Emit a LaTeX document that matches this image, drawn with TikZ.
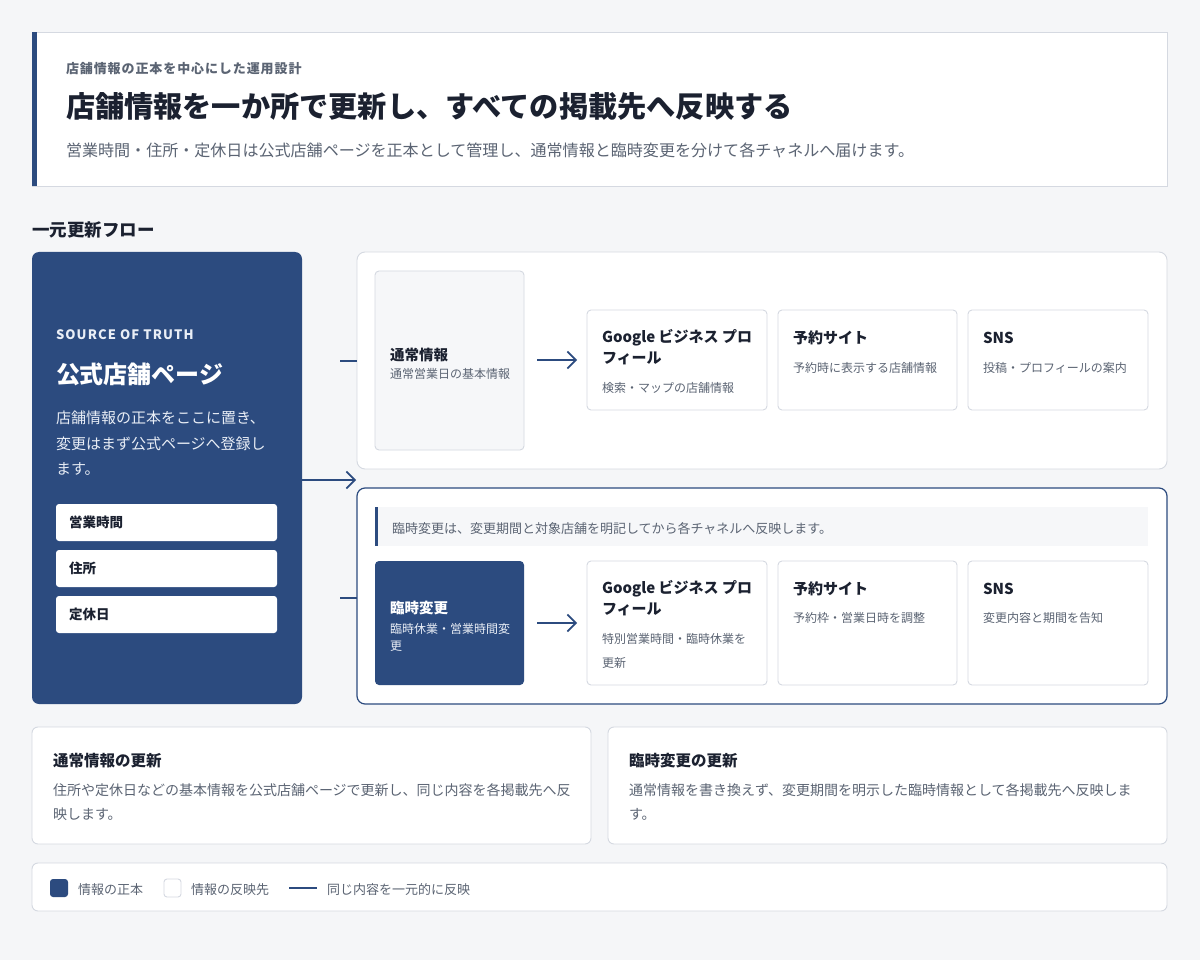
\documentclass[tikz,border=0pt]{standalone}
\usepackage{fontspec}
\setmainfont{Noto Sans CJK JP}
\usetikzlibrary{arrows.meta}
\definecolor{bgc}{HTML}{F5F6F8}
\definecolor{navy}{HTML}{2C4B7F}
\definecolor{bd}{HTML}{D5D9E1}
\definecolor{ink}{HTML}{1B2130}
\definecolor{gry}{HTML}{5B6473}
\definecolor{lite}{HTML}{F6F7F9}
\definecolor{pale}{HTML}{E9EEF6}
\tikzset{
  box/.style={anchor=north west, inner sep=0pt, outer sep=0pt, line width=0.9pt},
  card/.style={box, draw=bd, fill=white, rounded corners=4pt},
  t/.style={anchor=west, inner sep=0pt, outer sep=0pt, yshift=-1.5pt},
  fs/.style={font=\fontsize{#1}{#1}\selectfont},
  fb/.style={font=\fontsize{#1}{#1}\selectfont\bfseries},
  arr/.style={draw=navy, line width=1.6pt, -{Straight Barb[length=8.5pt,width=17pt,line width=1.6pt]}},
  stub/.style={draw=navy, line width=1.5pt},
  field/.style={box, fill=white, rounded corners=3pt, minimum width=221pt, minimum height=37pt,
    text width=195pt, inner xsep=13pt, align=left, text=ink, font=\fontsize{13.5}{13.5}\selectfont\bfseries}
}
\begin{document}
\begin{tikzpicture}[x=1pt,y=-1pt]
\fill[bgc] (0,0) rectangle (1200,960);
\useasboundingbox (0,0) rectangle (1200,960);

% header
\node[box, draw=bd, fill=white, minimum width=1135pt, minimum height=154pt] (header) at (32,32) {};
\fill[navy] (header.north west) rectangle ++(5,154);
\node[t, fb=13, text=gry] (kicker) at (66,67) {\addfontfeatures{LetterSpace=7}店舗情報の正本を中心にした運用設計};
\node[t, fb=29.2, text=ink] (title) at (66,105) {店舗情報を一か所で更新し、すべての掲載先へ反映する};
\node[t, fs=16.05, text=gry] (desc) at (66,149) {営業時間・住所・定休日は公式店舗ページを正本として管理し、通常情報と臨時変更を分けて各チャネルへ届けます。};

\node[t, fb=17.5, text=ink] (section) at (32,228) {一元更新フロー};

% source panel
\node[box, fill=navy, rounded corners=7pt, minimum width=270pt, minimum height=452pt] (src) at (32,252) {};
\node[t, fb=13, text=pale] (sot) at (56,333) {\addfontfeatures{LetterSpace=8.5}SOURCE OF TRUTH};
\node[t, fb=24, text=white] (srcname) at (56,373) {公式店舗ページ};
\node[t, fs=15, text=pale] (p1) at (56,416) {店舗情報の正本をここに置き、};
\node[t, fs=15, text=pale] (p2) at (56,442) {変更はまず公式ページへ登録し};
\node[t, fs=15, text=pale] (p3) at (56,468) {ます。};
\node[field] (f1) at (56,504) {\raisebox{-1.5pt}{営業時間}};
\node[field] (f2) at (56,550) {\raisebox{-1.5pt}{住所}};
\node[field] (f3) at (56,596) {\raisebox{-1.5pt}{定休日}};

% regular container
\node[box, draw=bd, fill=white, rounded corners=8pt, minimum width=810pt, minimum height=217pt] (reg) at (357,252) {};
\node[box, draw=bd, fill=lite, rounded corners=4pt, minimum width=149pt, minimum height=179pt] (regsrc) at (375,271) {};
\node[t, fb=14.5, text=ink] (regsrcT) at (390,353) {通常情報};
\node[t, fs=12, text=gry] (regsrcS) at (390,372) {通常営業日の基本情報};
\node[card, minimum width=180pt, minimum height=100pt] (rg) at (587,310) {};
\node[card, minimum width=179pt, minimum height=100pt] (rr) at (778,310) {};
\node[card, minimum width=180pt, minimum height=100pt] (rs) at (968,310) {};
\node[t, fb=15, text=ink] (rgT1) at (602,336) {Google ビジネス プロ};
\node[t, fb=15, text=ink] (rgT2) at (602,357) {フィール};
\node[t, fs=12, text=gry] (rgS) at (602,386) {検索・マップの店舗情報};
\node[t, fb=15, text=ink] (rrT) at (793,336) {予約サイト};
\node[t, fs=12, text=gry] (rrS) at (793,366) {予約時に表示する店舗情報};
\node[t, fb=15, text=ink] (rsT) at (983,336) {SNS};
\node[t, fs=12, text=gry] (rsS) at (983,366) {投稿・プロフィールの案内};
\draw[arr, shorten <=13pt, shorten >=10pt] (rg.west -| regsrc.east) -- (rg.west);

% temporary container
\node[box, draw=navy, line width=1.2pt, fill=white, rounded corners=8pt, minimum width=810pt, minimum height=216pt] (tmp) at (357,488) {};
\node[box, fill=lite, minimum width=773pt, minimum height=39pt] (tnote) at (375,507) {};
\fill[navy] (tnote.north west) rectangle ++(3,39);
\node[t, fs=13, text=gry] (tnoteT) at (392,527) {臨時変更は、変更期間と対象店舗を明記してから各チャネルへ反映します。};
\node[box, fill=navy, rounded corners=4pt, minimum width=149pt, minimum height=124pt] (tmpsrc) at (375,561) {};
\node[t, fb=14.5, text=white] (tmpsrcT) at (390,606) {臨時変更};
\node[t, fs=12, text=pale] (tmpsrcS1) at (390,627) {臨時休業・営業時間変};
\node[t, fs=12, text=pale] (tmpsrcS2) at (390,645) {更};
\node[card, minimum width=180pt, minimum height=124pt] (tg) at (587,561) {};
\node[card, minimum width=179pt, minimum height=124pt] (tr) at (778,561) {};
\node[card, minimum width=180pt, minimum height=124pt] (ts) at (968,561) {};
\node[t, fb=15, text=ink] (tgT1) at (602,587) {Google ビジネス プロ};
\node[t, fb=15, text=ink] (tgT2) at (602,608) {フィール};
\node[t, fs=12, text=gry] (tgS1) at (602,637) {特別営業時間・臨時休業を};
\node[t, fs=12, text=gry] (tgS2) at (602,661) {更新};
\node[t, fb=15, text=ink] (trT) at (793,587) {予約サイト};
\node[t, fs=12, text=gry] (trS) at (793,616) {予約枠・営業日時を調整};
\node[t, fb=15, text=ink] (tsT) at (983,587) {SNS};
\node[t, fs=12, text=gry] (tsS) at (983,616) {変更内容と期間を告知};
\draw[arr, shorten <=13pt, shorten >=10pt] (tg.west -| tmpsrc.east) -- (tg.west);

% connectors from source
\coordinate (hub) at (356,480);
\draw[arr] (src.east |- hub) -- (hub);
\coordinate (s1) at (340,361);
\coordinate (s2) at (340,598);
\draw[stub] (s1) -- (s1 -| reg.west);
\draw[stub] (s2) -- (s2 -| tmp.west);

% notes
\node[box, draw=bd, fill=white, rounded corners=6pt, minimum width=559pt, minimum height=117pt] (n1) at (32,727) {};
\node[box, draw=bd, fill=white, rounded corners=6pt, minimum width=559pt, minimum height=117pt] (n2) at (608,727) {};
\node[t, fb=15.5, text=ink] (n1T) at (53,759) {通常情報の更新};
\node[t, fs=14, text=gry] (n1a) at (53,789) {住所や定休日などの基本情報を公式店舗ページで更新し、同じ内容を各掲載先へ反};
\node[t, fs=14, text=gry] (n1b) at (53,813) {映します。};
\node[t, fb=15.5, text=ink] (n2T) at (629,759) {臨時変更の更新};
\node[t, fs=14, text=gry] (n2a) at (629,789) {通常情報を書き換えず、変更期間を明示した臨時情報として各掲載先へ反映しま};
\node[t, fs=14, text=gry] (n2b) at (629,813) {す。};

% legend
\node[box, draw=bd, fill=white, rounded corners=6pt, minimum width=1135pt, minimum height=48pt] (leg) at (32,863) {};
\node[box, fill=navy, rounded corners=3pt, minimum width=18pt, minimum height=18pt] (sw1) at (50,879) {};
\node[t, fs=13, text=gry] (lg1) at (78,888) {情報の正本};
\node[box, draw=bd, fill=white, rounded corners=3pt, minimum width=17pt, minimum height=18pt] (sw2) at (164,879) {};
\node[t, fs=13, text=gry] (lg2) at (191,888) {情報の反映先};
\coordinate (l1) at (289,888);
\coordinate (l2) at (317,888);
\draw[stub, line width=2pt] (l1) -- (l2);
\node[t, fs=13, text=gry] (lg3) at (327,888) {同じ内容を一元的に反映};
\end{tikzpicture}
\end{document}
